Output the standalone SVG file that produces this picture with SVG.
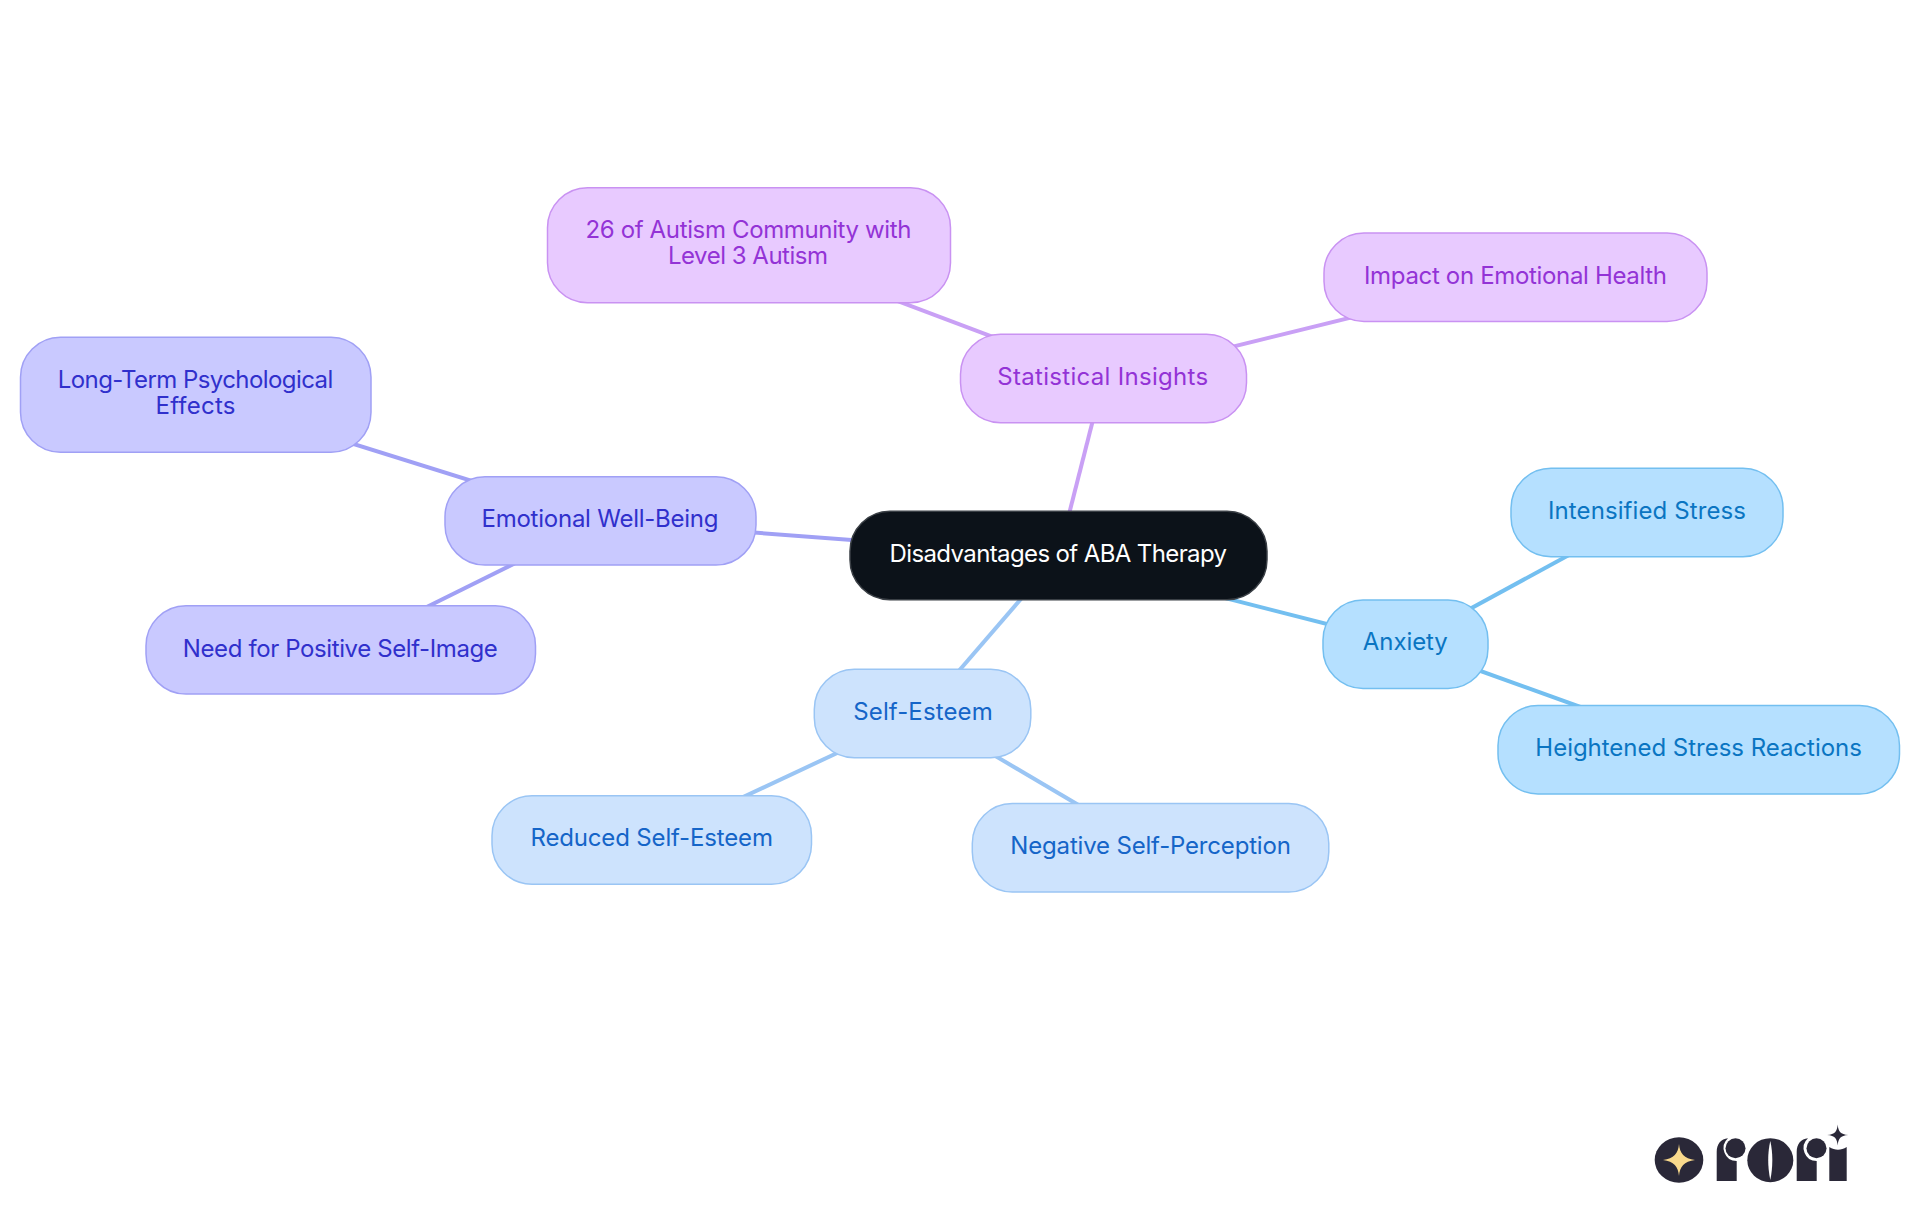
<svg xmlns="http://www.w3.org/2000/svg" width="1920" height="1215" viewBox="0 0 1920 1215">
<style>
text{font-family:"Inter","Noto Sans","Liberation Sans",sans-serif;font-size:24px;text-anchor:middle;font-weight:400}
rect{stroke-width:1.5}
.c{fill:none;stroke-width:4}
.root rect{fill:#0c1219;stroke:#3a3f45}.root text{fill:#fff}
.p rect{fill:#e8caff;stroke:#c992f2}.p text{fill:#9333d6}
.i rect{fill:#c9c9ff;stroke:#a0a0f5}.i text{fill:#3030cc}
.s rect{fill:#cde3fd;stroke:#9ac5f4}.s text{fill:#1565c8}
.a rect{fill:#b5e0ff;stroke:#73bff0}.a text{fill:#0a75c2}
.logo{fill:#2a2838}
</style>
<rect width="1920" height="1215" fill="#fff" stroke="none"/>
<g id="connectors">
<line class="c" stroke="#c9a0f5" x1="1103.500" y1="378.500" x2="1058.500" y2="555.500"/>
<line class="c" stroke="#c9a0f5" x1="1103.500" y1="378.500" x2="748.800" y2="245"/>
<line class="c" stroke="#c9a0f5" x1="1103.500" y1="378.500" x2="1515.500" y2="277"/>
<line class="c" stroke="#a0a0f5" x1="600" y1="521" x2="1058.500" y2="555.500"/>
<line class="c" stroke="#a0a0f5" x1="600" y1="521" x2="195.500" y2="394.500"/>
<line class="c" stroke="#a0a0f5" x1="600" y1="521" x2="340" y2="650"/>
<line class="c" stroke="#9ac5f4" x1="1058.500" y1="555.500" x2="922.500" y2="713"/>
<line class="c" stroke="#9ac5f4" x1="922.500" y1="713" x2="651.500" y2="840"/>
<line class="c" stroke="#9ac5f4" x1="922.500" y1="713" x2="1150.500" y2="847.500"/>
<line class="c" stroke="#73bff0" x1="1058.500" y1="555.500" x2="1405.500" y2="644"/>
<line class="c" stroke="#73bff0" x1="1405.500" y1="644" x2="1647" y2="512.500"/>
<line class="c" stroke="#73bff0" x1="1405.500" y1="644" x2="1698.500" y2="749.500"/>
</g>
<g id="root" class="root"><rect x="850" y="511.300" width="417" height="88.400" rx="40"/><text x="1058.300" y="562" textLength="337.500">Disadvantages of ABA Therapy</text></g>
<g id="statistical" class="p"><rect x="960.500" y="334.300" width="286" height="88.400" rx="40"/><text x="1102.700" y="385" textLength="211">Statistical Insights</text></g>
<g id="autism26" class="p"><rect x="547.500" y="187.700" width="403" height="115" rx="40"/><text x="748.500" y="238" textLength="326">26 of Autism Community with</text><text x="748" y="264" textLength="160">Level 3 Autism</text></g>
<g id="impact" class="p"><rect x="1324" y="233" width="383" height="88.400" rx="40"/><text x="1515.500" y="284" textLength="303">Impact on Emotional Health</text></g>
<g id="wellbeing" class="i"><rect x="445" y="476.700" width="311" height="88.400" rx="40"/><text x="600" y="527" textLength="237">Emotional Well-Being</text></g>
<g id="longterm" class="i"><rect x="20.500" y="337.300" width="350.500" height="115" rx="40"/><text x="195.500" y="388" textLength="275.500">Long-Term Psychological</text><text x="195.500" y="414" textLength="80">Effects</text></g>
<g id="selfimage" class="i"><rect x="146" y="605.700" width="389.500" height="88.400" rx="40"/><text x="340.300" y="657" textLength="315">Need for Positive Self-Image</text></g>
<g id="selfesteem" class="s"><rect x="814.300" y="669.300" width="216.500" height="88.400" rx="40"/><text x="923" y="720" textLength="139.500">Self-Esteem</text></g>
<g id="reduced" class="s"><rect x="492" y="795.800" width="319.500" height="88.400" rx="40"/><text x="651.700" y="846" textLength="242.500">Reduced Self-Esteem</text></g>
<g id="negative" class="s"><rect x="972.300" y="803.500" width="356.500" height="88.400" rx="40"/><text x="1150.600" y="854" textLength="280.500">Negative Self-Perception</text></g>
<g id="anxiety" class="a"><rect x="1323" y="600" width="165" height="88.400" rx="40"/><text x="1405.300" y="650" textLength="85">Anxiety</text></g>
<g id="intensified" class="a"><rect x="1511" y="468.300" width="272" height="88.400" rx="40"/><text x="1647" y="519" textLength="198">Intensified Stress</text></g>
<g id="heightened" class="a"><rect x="1498" y="705.500" width="401.500" height="88.400" rx="40"/><text x="1698.600" y="756" textLength="326.500">Heightened Stress Reactions</text></g>
<g id="logo">
<ellipse class="logo" cx="1679" cy="1160" rx="24.300" ry="22.700"/>
<path d="M1679 1144C1679.800 1153.500 1684 1158.500 1695 1160C1684 1161.500 1679.800 1166.500 1679 1176C1678.200 1166.500 1674 1161.500 1663 1160C1674 1158.500 1678.200 1153.500 1679 1144Z" fill="#f9d98c"/>
<path class="logo" d="M1716.700 1181V1152C1716.700 1144 1721 1139 1728 1138.300A13 13 0 0 0 1736.700 1161V1181Z"/>
<circle class="logo" cx="1735.500" cy="1148.300" r="10"/>
<ellipse class="logo" cx="1770.300" cy="1160.200" rx="23" ry="22"/>
<path d="M1770.300 1141C1767.500 1153 1767.500 1167 1770.300 1180C1773 1167 1773 1153 1770.300 1141Z" fill="#fff"/>
<path class="logo" d="M1796.700 1181V1152C1796.700 1144 1801 1139 1808 1138.300A13 13 0 0 0 1816.700 1161V1181Z"/>
<circle class="logo" cx="1816.500" cy="1148.300" r="10"/>
<path class="logo" d="M1829.300 1181V1147C1835 1150.500 1841 1150.500 1846.700 1147V1181Z"/>
<path class="logo" d="M1837.700 1124.500C1838.300 1131.500 1840.500 1134.400 1848.200 1135C1840.500 1135.600 1838.300 1138.500 1837.700 1145.500C1837 1138.500 1835 1135.600 1827.200 1135C1835 1134.400 1837 1131.500 1837.700 1124.500Z"/>
</g>
</svg>
